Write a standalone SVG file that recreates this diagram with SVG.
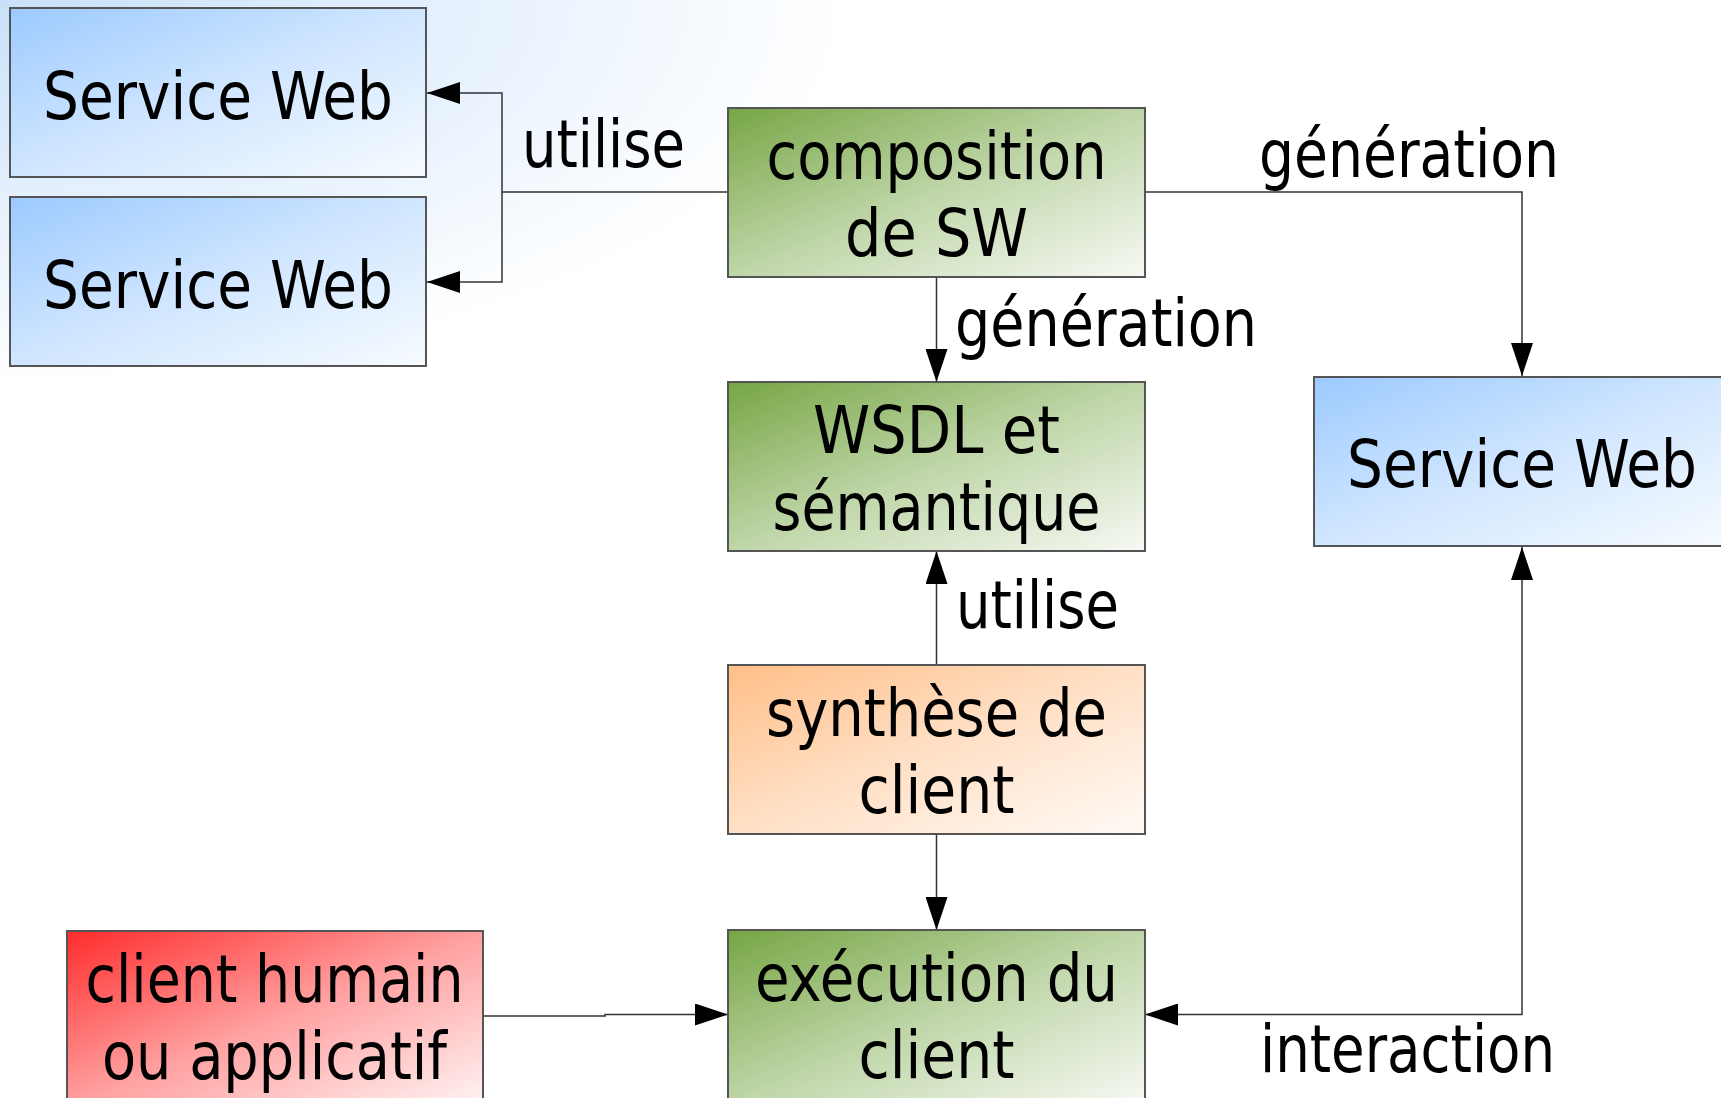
<svg xmlns="http://www.w3.org/2000/svg" width="1721" height="1098" viewBox="0 0 1721 1098">
<defs>
  <radialGradient id="bg" gradientUnits="userSpaceOnUse" cx="0" cy="0" r="850" gradientTransform="scale(1,0.45)">
    <stop offset="0" stop-color="#c8e0fa"/>
    <stop offset="0.55" stop-color="#e6f1fd"/>
    <stop offset="1" stop-color="#ffffff"/>
  </radialGradient>
  <linearGradient id="gBlue" x1="0" y1="0" x2="1" y2="1">
    <stop offset="0" stop-color="#9ccaff"/>
    <stop offset="0.5" stop-color="#d0e6ff"/>
    <stop offset="1" stop-color="#f7fbff"/>
  </linearGradient>
  <linearGradient id="gGreen" x1="0" y1="0" x2="1" y2="1">
    <stop offset="0" stop-color="#76a544"/>
    <stop offset="0.5" stop-color="#bfd6a8"/>
    <stop offset="1" stop-color="#f7f9f4"/>
  </linearGradient>
  <linearGradient id="gOrange" x1="0" y1="0" x2="1" y2="1">
    <stop offset="0" stop-color="#ffbf88"/>
    <stop offset="0.5" stop-color="#ffe0c6"/>
    <stop offset="1" stop-color="#fffaf6"/>
  </linearGradient>
  <linearGradient id="gRed" x1="0" y1="0" x2="1" y2="1">
    <stop offset="0" stop-color="#ff2c2c"/>
    <stop offset="0.5" stop-color="#ffa0a0"/>
    <stop offset="1" stop-color="#fff4f4"/>
  </linearGradient>
  <marker id="arr" markerUnits="userSpaceOnUse" viewBox="0 0 33 22" refX="33" refY="11" markerWidth="33" markerHeight="22" orient="auto-start-reverse">
    <path d="M0,0 L33,11 L0,22 z" fill="#000"/>
  </marker>
</defs>
<style>
  .box { stroke: #555555; stroke-width: 2; }
  .t { font-family: "DejaVu Sans Condensed", "DejaVu Sans", sans-serif; font-stretch: condensed; font-size: 65px; fill: #000; }
  .c { text-anchor: middle; }
  .conn { fill: none; stroke: #333333; stroke-width: 1.5; }
</style>
<rect x="0" y="0" width="1721" height="1098" fill="url(#bg)"/>

<g id="connectors">
  <path class="conn" d="M728,192 H502 V93 H427" marker-end="url(#arr)"/>
  <path class="conn" d="M502,192 V282 H427" marker-end="url(#arr)"/>
  <path class="conn" d="M936.5,277 V382" marker-end="url(#arr)"/>
  <path class="conn" d="M1145,192 H1522 V376" marker-end="url(#arr)"/>
  <path class="conn" d="M936.5,665 V551" marker-end="url(#arr)"/>
  <path class="conn" d="M936.5,834 V930" marker-end="url(#arr)"/>
  <path class="conn" d="M483,1016 H605 V1014.5 H728" marker-end="url(#arr)"/>
  <path class="conn" d="M1522,547 V1014.5 H1145" marker-start="url(#arr)" marker-end="url(#arr)"/>
  <text class="t" x="522" y="167" textLength="163" lengthAdjust="spacingAndGlyphs">utilise</text>
  <text class="t" x="1259" y="177" textLength="300" lengthAdjust="spacingAndGlyphs">génération</text>
  <text class="t" x="955" y="346" textLength="302" lengthAdjust="spacingAndGlyphs">génération</text>
  <text class="t" x="956" y="628" textLength="163" lengthAdjust="spacingAndGlyphs">utilise</text>
  <text class="t" x="1260" y="1072" textLength="295" lengthAdjust="spacingAndGlyphs">interaction</text>
</g>

<g id="sw1">
  <rect class="box" x="10" y="8" width="416" height="169" fill="url(#gBlue)"/>
  <text class="t c" x="218" y="119" textLength="350" lengthAdjust="spacingAndGlyphs">Service Web</text>
</g>
<g id="sw2">
  <rect class="box" x="10" y="197" width="416" height="169" fill="url(#gBlue)"/>
  <text class="t c" x="218" y="308" textLength="350" lengthAdjust="spacingAndGlyphs">Service Web</text>
</g>
<g id="sw3">
  <rect class="box" x="1314" y="377" width="416" height="169" fill="url(#gBlue)"/>
  <text class="t c" x="1522" y="487" textLength="350" lengthAdjust="spacingAndGlyphs">Service Web</text>
</g>
<g id="composition">
  <rect class="box" x="728" y="108" width="417" height="169" fill="url(#gGreen)"/>
  <text class="t c" x="936.5" y="179" textLength="340" lengthAdjust="spacingAndGlyphs">composition</text>
  <text class="t c" x="936.5" y="256" textLength="183" lengthAdjust="spacingAndGlyphs">de SW</text>
</g>
<g id="wsdl">
  <rect class="box" x="728" y="382" width="417" height="169" fill="url(#gGreen)"/>
  <text class="t c" x="936.5" y="453" textLength="247" lengthAdjust="spacingAndGlyphs">WSDL et</text>
  <text class="t c" x="936.5" y="530" textLength="328" lengthAdjust="spacingAndGlyphs">sémantique</text>
</g>
<g id="synthese">
  <rect class="box" x="728" y="665" width="417" height="169" fill="url(#gOrange)"/>
  <text class="t c" x="936.5" y="736" textLength="341" lengthAdjust="spacingAndGlyphs">synthèse de</text>
  <text class="t c" x="936.5" y="813" textLength="156" lengthAdjust="spacingAndGlyphs">client</text>
</g>
<g id="execution">
  <rect class="box" x="728" y="930" width="417" height="175" fill="url(#gGreen)"/>
  <text class="t c" x="936.5" y="1001" textLength="363" lengthAdjust="spacingAndGlyphs">exécution du</text>
  <text class="t c" x="936.5" y="1078" textLength="156" lengthAdjust="spacingAndGlyphs">client</text>
</g>
<g id="client">
  <rect class="box" x="67" y="931" width="416" height="175" fill="url(#gRed)"/>
  <text class="t c" x="274.5" y="1002" textLength="378" lengthAdjust="spacingAndGlyphs">client humain</text>
  <text class="t c" x="274.5" y="1079" textLength="345" lengthAdjust="spacingAndGlyphs">ou applicatif</text>
</g>
</svg>
